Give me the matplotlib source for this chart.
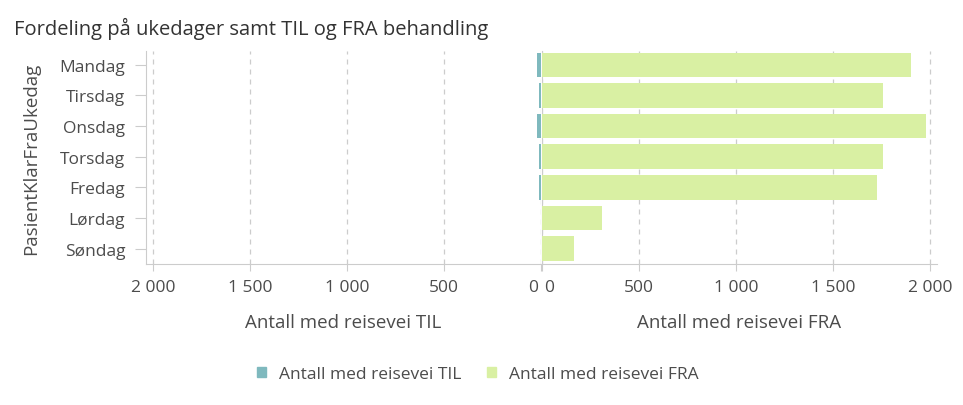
import numpy as np
import matplotlib
matplotlib.use("Agg")
import matplotlib.pyplot as plt
import matplotlib.transforms as mtransforms
from matplotlib.ticker import FuncFormatter
from matplotlib.patches import Patch

plt.rcParams['font.family'] = ['Open Sans', 'DejaVu Sans']

# data
days = ["Mandag", "Tirsdag", "Onsdag", "Torsdag", "Fredag", "Lørdag", "Søndag"]
til = [19, 10, 20, 10, 10, 0, 0]
fra = [1900, 1758, 1979, 1758, 1725, 308, 165]
xticks = [0, 500, 1000, 1500, 2000]

teal = "#7fb9be"
green = "#d9f0a3"
txt = "#4c4c4c"
line_c = "#cccccc"

def thousands(v, pos):
    return "{:,.0f}".format(v).replace(",", " ")

fig = plt.figure(figsize=(9.63, 4.06), dpi=100)
axL = fig.add_axes([146/963, 1-265/406, 395/963, 213/406])
axR = fig.add_axes([542/963, 1-265/406, 395/963, 213/406])

y = np.arange(len(days))
axL.barh(y, til, height=0.8, color=teal, zorder=3)
axR.barh(y, fra, height=0.8, color=green, zorder=3)

axL.set_xlim(2036, 0)
axR.set_xlim(0, 2036)
for ax in (axL, axR):
    ax.set_ylim(len(days)-0.5, -0.45)
    ax.set_xticks(xticks)
    ax.xaxis.set_major_formatter(FuncFormatter(thousands))
    ax.grid(axis="x", linestyle=(0, (4, 4)), color=line_c, linewidth=0.9, zorder=0)
    for s in ("top", "right"):
        ax.spines[s].set_visible(False)
    ax.spines["bottom"].set_color(line_c)
    ax.spines["left"].set_color(line_c)
    ax.tick_params(axis="x", colors=line_c, labelcolor=txt, labelsize=12.5, length=5, pad=6)
    ax.set_facecolor("none")

# keep the two zero labels apart ("0 0")
lab0 = axL.get_xticklabels()[0]
lab0.set_horizontalalignment("right")
lab0.set_transform(lab0.get_transform() + mtransforms.ScaledTranslation(-3/100, 0, fig.dpi_scale_trans))
lab1 = axR.get_xticklabels()[0]
lab1.set_horizontalalignment("left")
lab1.set_transform(lab1.get_transform() + mtransforms.ScaledTranslation(2/100, 0, fig.dpi_scale_trans))

axL.set_yticks(y)
axL.set_yticklabels(days)
axL.tick_params(axis="y", colors=line_c, labelcolor=txt, labelsize=12.5, length=8, pad=7)
axR.set_yticks([])

axL.set_xlabel("Antall med reisevei TIL", color=txt, fontsize=13.5, labelpad=13)
axR.set_xlabel("Antall med reisevei FRA", color=txt, fontsize=13.5, labelpad=13)
axL.set_ylabel("PasientKlarFraUkedag", color=txt, fontsize=13.5)
axL.yaxis.set_label_coords((40-146)/395, 0.5)

fig.text(14/963, 1-29/406, "Fordeling på ukedager samt TIL og FRA behandling",
         color="#333333", fontsize=14.5, va="center", ha="left")

handles = [Patch(color=teal, label="Antall med reisevei TIL"),
           Patch(color=green, label="Antall med reisevei FRA")]
fig.legend(handles=handles, loc="center", bbox_to_anchor=(478/963, 1-375/406),
           ncol=2, frameon=False, fontsize=12.5, handlelength=0.5, handleheight=0.5,
           handletextpad=0.75, columnspacing=1.5, labelcolor=txt)

fig.savefig("out.png", dpi=100)
